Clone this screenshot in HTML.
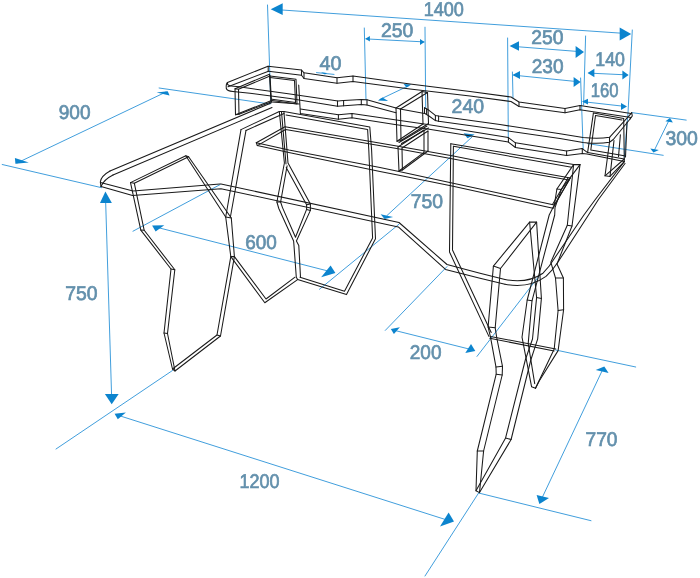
<!DOCTYPE html><html><head><meta charset="utf-8"><title>Desk dimensions</title>
<style>html,body{margin:0;padding:0;background:#fff}svg{display:block}text{font-family:"Liberation Sans",sans-serif;font-size:19.8px;fill:#6390ac;stroke:#6390ac;stroke-width:0.7px;text-rendering:geometricPrecision}</style></head><body>
<svg width="700" height="578" viewBox="0 0 700 578">
<defs><filter id="noaa" filterUnits="userSpaceOnUse" x="0" y="0" width="700" height="578"><feOffset dx="0" dy="0"/></filter></defs>
<rect width="700" height="578" fill="#ffffff"/>
<g fill="none" stroke="#2b93d8" stroke-width="0.9" stroke-linecap="round">
<polyline points="276.0,9.6 626.0,33.5"/>
<polyline points="267.5,5.0 270.8,103.0"/>
<polyline points="632.3,30.0 628.0,113.0 624.3,157.0"/>
<polyline points="366.0,38.9 424.0,41.9"/>
<polyline points="364.3,28.0 366.0,100.0"/>
<polyline points="425.0,27.2 425.7,108.0"/>
<polyline points="512.0,46.3 582.0,51.8"/>
<polyline points="507.6,38.0 508.3,137.0"/>
<polyline points="585.6,36.0 583.6,105.0"/>
<polyline points="514.0,75.2 579.0,81.8"/>
<polyline points="512.4,72.0 513.0,98.0"/>
<polyline points="580.6,78.0 583.2,149.0"/>
<polyline points="589.0,73.1 627.0,74.9"/>
<polyline points="584.0,101.8 625.0,106.4"/>
<polyline points="669.4,119.5 654.0,151.0"/>
<polyline points="631.6,112.6 686.2,120.1"/>
<polyline points="587.6,143.6 663.2,155.3"/>
<polyline points="316.5,72.6 334.0,74.4"/>
<polyline points="380.0,99.4 409.0,85.6"/>
<polyline points="386.9,215.6 472.0,137.0"/>
<polyline points="17.0,163.0 166.0,92.0"/>
<polyline points="2.2,164.5 101.6,187.7"/>
<polyline points="159.1,88.0 270.0,104.0"/>
<polyline points="105.6,200.0 111.6,396.0"/>
<polyline points="158.0,227.6 328.0,271.0"/>
<polyline points="133.0,231.2 220.1,184.6"/>
<polyline points="319.4,289.3 399.1,224.1"/>
<polyline points="120.0,415.9 446.0,519.7"/>
<polyline points="172.5,370.5 56.0,449.0"/>
<polyline points="478.6,493.0 425.0,576.0"/>
<polyline points="395.0,330.5 469.0,349.0"/>
<polyline points="385.3,330.4 447.0,266.6"/>
<polyline points="477.0,356.4 540.6,274.0"/>
<polyline points="542.0,498.0 602.0,371.0"/>
<polyline points="478.6,493.0 591.0,520.7"/>
<polyline points="555.7,350.0 635.7,367.0"/>
</g>
<g fill="#0c84ce" stroke="none">
<polygon points="270.7,9.2 282.7,3.3 282.7,15.1"/>
<polygon points="631.2,34.0 619.7,27.5 619.7,40.5"/>
<polygon points="365.3,38.8 369.9,36.0 369.9,41.6"/>
<polygon points="424.6,42.0 420.0,39.0 420.0,45.0"/>
<polygon points="509.6,46.0 519.0,41.2 519.0,50.8"/>
<polygon points="584.0,52.0 575.6,46.0 575.6,58.0"/>
<polygon points="512.4,75.0 520.0,71.0 520.0,79.0"/>
<polygon points="580.6,82.0 573.6,77.0 573.6,87.0"/>
<polygon points="587.6,73.0 594.4,68.8 594.4,77.2"/>
<polygon points="628.6,75.0 622.4,70.6 622.4,79.4"/>
<polygon points="582.0,101.6 588.0,98.8 588.0,104.4"/>
<polygon points="627.0,106.6 621.0,103.1 621.0,110.1"/>
<polygon points="670,118 665.4,121.3 672.9,122.4"/>
<polygon points="653.4,152.4 650.3,148.6 658.9,150"/>
<polygon points="321,72.2 325,74.4 327,73"/>
<polygon points="377.9,100.4 388.1,100.9 382.5,97.6"/>
<polygon points="411.3,84.6 403.6,83.9 406.5,87.5"/>
<polygon points="384.6,219 380.6,214.2 393.1,216.9"/>
<polygon points="474.7,134.6 463.6,133.2 467.5,138.3"/>
<polygon points="15.4,163.8 14.9,158 28.8,162.5"/>
<polygon points="167.7,91.3 156.6,92.4 169.6,95.6"/>
<polygon points="105.4,191.6 100,202.9 111.9,202.9"/>
<polygon points="111.7,404.2 104.9,394.1 118.7,394.1"/>
<polygon points="152.1,225.6 164.3,225.2 155.6,231.4"/>
<polygon points="335.4,273 330.6,265.6 321.1,277.3"/>
<polygon points="114.6,413.7 125.9,412.4 117.8,419.2"/>
<polygon points="454,521.6 448.6,512.6 440,526.4"/>
<polygon points="390.8,329 399.9,327.3 393.9,334.1"/>
<polygon points="475.3,351 471,344.1 465.3,353"/>
<polygon points="539.4,504 536.6,495 549,498"/>
<polygon points="604.3,366.6 595.7,370 608.6,372.9"/>
</g>
<g fill="none" stroke="#1a1a1a" stroke-width="1.05" stroke-linejoin="round" stroke-linecap="round">
<polyline points="268.0,66.2 301.5,70.0 304.0,72.8 337.0,77.8 353.0,76.0 410.0,84.0 470.0,91.6 511.0,97.0 519.0,102.0 565.0,108.6 580.0,105.6 631.0,113.6"/>
<polyline points="268.5,71.2 301.5,75.2 304.0,78.5 337.0,83.2 353.0,81.5 410.0,89.0 470.0,96.0 511.0,101.5 519.0,106.5 565.0,112.8 580.0,109.8 631.0,117.6"/>
<polyline points="268.2,66.2 268.2,71.2"/>
<polyline points="301.5,70.0 301.5,75.2"/>
<polyline points="304.0,72.8 304.0,78.5"/>
<polyline points="337.0,77.8 337.0,83.2"/>
<polyline points="353.0,76.0 353.0,81.5"/>
<polyline points="519.0,102.0 519.0,106.5"/>
<polyline points="565.0,108.6 565.0,112.8"/>
<polyline points="580.0,105.6 580.0,109.8"/>
<polyline points="268.0,66.2 227.5,82.5"/>
<polyline points="268.5,71.2 228.0,86.8"/>
<polyline points="239.0,86.8 290.0,94.0 338.0,101.0 343.6,100.5 361.3,99.4 367.0,99.7 396.0,108.0"/>
<polyline points="233.0,91.6 250.0,93.2 290.0,98.5 337.5,106.2 361.3,104.6 367.0,104.9 396.0,112.7"/>
<polyline points="337.5,101.0 337.5,106.2"/>
<polyline points="343.6,100.5 343.6,105.8"/>
<polyline points="361.3,99.4 361.3,104.6"/>
<polyline points="367.0,99.7 367.0,104.9"/>
<polyline points="400.0,109.0 424.5,113.5"/>
<polyline points="609.5,137.3 609.5,142.2"/>
<polyline points="620.4,134.7 618.5,156.6"/>
<polyline points="424.5,107.7 424.5,113.3"/>
<polyline points="426.6,108.7 426.6,114.3"/>
<polyline points="435.4,115.4 435.4,120.6"/>
<polyline points="438.6,116.0 438.6,121.2"/>
<polyline points="298.7,85.0 300.4,113.6 338.4,119.2 352.0,117.7 396.5,124.7 427.7,129.0 508.4,142.1 515.4,147.5 566.6,155.4 582.5,153.5 587.0,154.0 624.3,161.6"/>
<polyline points="300.4,109.0 338.4,114.7 352.0,113.4 396.5,120.0 427.7,124.4 508.4,137.6 515.4,142.8 566.6,150.9 582.2,148.6 587.6,152.6 624.3,159.0"/>
<polyline points="338.4,114.7 338.4,119.2"/>
<polyline points="352.0,113.4 352.0,117.7"/>
<polyline points="508.4,137.6 508.4,142.1"/>
<polyline points="515.4,142.8 515.4,147.5"/>
<polyline points="566.6,150.9 566.6,155.4"/>
<polyline points="582.3,148.6 582.3,153.5"/>
<polyline points="235.0,88.7 269.5,74.3"/>
<polyline points="238.5,89.2 270.0,76.0"/>
<polyline points="235.0,88.7 235.5,114.8 239.0,114.2 238.5,89.2 235.0,88.7"/>
<polyline points="270.0,76.0 271.5,102.0"/>
<polyline points="269.5,74.3 271.0,102.0"/>
<polyline points="235.5,114.8 271.5,100.5"/>
<polyline points="239.0,114.2 271.5,101.8"/>
<polyline points="270.0,76.0 296.0,79.2 297.0,104.0 272.0,100.5"/>
<polyline points="270.0,77.6 294.5,80.5 295.5,102.5 272.0,99.3"/>
<polyline points="272.0,102.0 299.3,104.0"/>
<polyline points="396.0,108.0 422.0,91.5 427.5,92.5 400.5,109.0 396.0,108.0"/>
<polyline points="396.0,108.0 397.0,141.3 401.0,140.5 400.5,109.0"/>
<polyline points="422.0,91.5 423.0,124.0"/>
<polyline points="427.5,92.5 428.5,123.5"/>
<polyline points="397.0,141.3 423.0,124.0"/>
<polyline points="401.0,140.5 428.5,123.5"/>
<polyline points="399.0,142.5 427.0,126.0"/>
<polyline points="401.5,143.5 428.5,128.0"/>
<polyline points="398.0,147.0 424.0,130.0"/>
<polyline points="398.0,147.0 399.0,171.0 402.4,170.0 402.0,148.0"/>
<polyline points="402.0,148.0 428.0,131.0"/>
<polyline points="424.0,130.0 424.0,152.4"/>
<polyline points="428.0,131.0 428.0,151.0"/>
<polyline points="399.0,171.0 424.0,152.4"/>
<polyline points="402.4,170.0 428.0,151.0"/>
<polyline points="593.4,113.1 623.7,118.5"/>
<polyline points="593.4,113.1 587.6,152.6"/>
<polyline points="595.5,115.5 590.8,150.0 624.3,155.8"/>
<polyline points="595.5,115.5 622.0,120.0"/>
<polyline points="631.7,112.6 632.3,116.0 630.0,118.9"/>
<polyline points="609.5,142.2 605.0,175.8 610.0,176.4 614.0,140.5"/>
<polyline points="605.0,175.8 624.3,159.0"/>
<polyline points="610.0,176.4 624.3,161.6"/>
<polyline points="623.7,118.5 624.3,161.6"/>
<polyline points="627.0,122.0 625.5,157.0"/>
<polyline points="271.0,103.0 110.0,171.0"/>
<polyline points="272.0,107.5 113.0,175.0"/>
<polyline points="100.5,182.4 133.0,191.0 220.0,184.0 221.0,184.0 399.0,222.5 447.0,264.5 480.0,273.2 505.0,279.5"/>
<polyline points="101.0,186.4 132.5,195.5 221.0,188.7 398.3,226.9 445.5,269.4 480.0,278.3 505.0,284.3"/>
<polyline points="130.5,182.6 185.8,155.8 225.7,217.0 230.8,256.6 217.0,335.0 172.5,369.0 164.0,333.0 171.0,269.0 140.8,230.1 130.5,182.6"/>
<polyline points="134.3,183.2 188.6,156.7 231.3,218.0 234.4,256.6 220.5,336.0 175.0,371.0 167.5,333.5 174.8,269.8 144.2,230.3 134.3,183.2"/>
<polyline points="130.5,182.6 134.3,183.2"/>
<polyline points="185.8,155.8 188.6,156.7"/>
<polyline points="225.7,217.0 231.3,218.0"/>
<polyline points="230.8,256.6 234.4,256.6"/>
<polyline points="217.0,335.0 220.5,336.0"/>
<polyline points="172.5,369.0 175.0,371.0"/>
<polyline points="164.0,333.0 167.5,333.5"/>
<polyline points="171.0,269.0 174.8,269.8"/>
<polyline points="140.8,230.1 144.2,230.3"/>
<polyline points="241.0,129.6 279.3,111.5 283.9,111.5"/>
<polyline points="246.0,130.4 284.0,113.5"/>
<polyline points="241.0,129.6 225.7,217.0"/>
<polyline points="246.0,130.4 230.4,217.0"/>
<polyline points="279.3,111.5 284.4,163.0 276.9,202.0 278.8,208.5 293.6,241.0 293.9,244.4 296.3,277.2 297.6,279.6 264.8,302.7 230.8,256.6"/>
<polyline points="283.9,111.5 288.0,163.0 310.4,203.9 310.4,210.4 296.4,241.0 298.8,245.6 300.5,277.2"/>
<polyline points="287.1,165.8 280.6,202.0 282.5,207.6 295.5,237.3 306.6,209.4 306.6,204.8 286.2,167.6"/>
<polyline points="281.5,112.0 286.0,164.0"/>
<polyline points="295.0,277.2 266.0,299.0 234.4,256.6"/>
<polyline points="276.9,202.0 280.6,202.0"/>
<polyline points="310.4,203.9 306.6,204.8"/>
<polyline points="310.4,210.4 306.6,209.4"/>
<polyline points="283.9,111.5 369.8,127.0 371.6,150.0 375.5,238.7 346.5,294.6 297.6,279.6"/>
<polyline points="286.0,115.0 367.6,129.4 368.8,150.0 372.6,237.9 344.5,291.2 300.0,277.2"/>
<polyline points="256.3,142.8 285.0,126.7 396.7,146.0 452.0,155.7 510.0,167.2 570.4,178.1"/>
<polyline points="257.3,145.6 285.6,129.5 396.7,148.6 452.0,158.7 510.0,169.8 569.0,180.0"/>
<polyline points="256.3,142.8 289.0,150.0 380.0,167.6 399.0,171.5 452.0,182.9 510.0,195.5 554.3,205.1"/>
<polyline points="256.3,142.8 257.3,145.6 290.0,152.8 380.0,171.4 399.0,175.3 452.0,186.0 510.0,198.7 553.0,208.3"/>
<polyline points="570.4,178.1 554.3,205.1"/>
<polyline points="569.0,180.0 553.0,208.3"/>
<polyline points="568.0,178.0 552.5,204.5"/>
<polyline points="450.8,143.7 573.6,164.6 580.0,164.6"/>
<polyline points="453.4,146.3 571.7,167.2"/>
<polyline points="450.8,143.7 449.5,252.0 488.9,336.4"/>
<polyline points="453.4,146.3 452.5,250.0 491.2,332.5"/>
<polyline points="490.5,336.4 555.8,349.0"/>
<polyline points="489.7,338.3 554.2,351.0"/>
<polyline points="493.4,266.1 529.6,222.1 536.6,222.1 500.5,268.5 493.4,266.1"/>
<polyline points="493.4,266.1 488.1,327.0 490.5,337.2 496.0,367.1 496.2,374.2 477.3,451.0 476.0,490.8 479.5,492.6"/>
<polyline points="500.5,268.5 495.2,327.8 496.8,338.0 502.5,366.3 502.2,375.0 483.6,451.0 479.5,492.6"/>
<polyline points="488.1,327.0 495.2,327.8"/>
<polyline points="496.0,367.1 502.5,366.3"/>
<polyline points="496.2,374.2 502.2,375.0"/>
<polyline points="477.3,451.0 483.6,451.0"/>
<polyline points="529.6,222.1 536.6,297.6 532.5,339.0 525.3,360.0 505.6,437.9 476.0,490.8"/>
<polyline points="536.6,222.1 541.4,298.4 537.7,338.8 530.8,360.0 511.1,439.5 479.5,492.6"/>
<polyline points="536.6,297.6 541.4,298.4"/>
<polyline points="505.6,437.9 511.1,439.5"/>
<polyline points="573.6,164.6 556.9,189.0 561.4,189.4 580.0,164.6"/>
<polyline points="556.9,189.0 554.3,205.1 549.2,215.0 527.2,300.0 522.0,337.2 531.6,386.8 535.5,388.3"/>
<polyline points="561.4,189.4 555.0,207.7 554.7,215.0 532.0,300.8 528.2,343.5 534.7,383.6"/>
<polyline points="527.2,300.0 532.0,300.8"/>
<polyline points="573.6,164.6 567.3,225.2 550.8,262.2 555.5,278.0 558.1,310.5 554.2,349.0 535.5,388.3"/>
<polyline points="580.0,164.6 572.0,226.0 557.0,264.0 563.4,278.0 563.6,309.7 558.1,350.6 539.2,381.0 535.5,388.3"/>
<polyline points="567.3,225.2 572.0,226.0"/>
<polyline points="555.5,278.0 563.4,278.0"/>
<polyline points="558.1,310.5 563.6,309.7"/>
<path d="M227.5,82.5 Q225.8,84 226.3,88.5 Q227,91 233,91.6"/>
<path d="M227.5,82.5 Q226.8,85.6 231,85.9 L239,86.8"/>
<path d="M424.5,107.7 L429,110.3 L435.4,115.4 L438.6,116 L500,124.6 L560,133.8 L583.1,137.5 Q598,139.2 609.5,137.3 L631.7,112.8"/>
<path d="M424.5,113.3 L429,116 L435.4,120.6 L438.6,121.2 L500,129.8 L560,138.6 L583.1,142.4 Q598,144.2 609.5,142.2 L613.3,139.5 L630.5,118.5"/>
<path d="M110,171 Q101,176 100.3,182 L101,186.4"/>
<path d="M113,175 Q104,179.5 101,186.4"/>
<path d="M505,279.5 Q527,284 543,273.2 Q550,266 554,259 L583.9,215 L595.5,199.3 L624.3,161.6"/>
<path d="M505,284.3 Q529,288.7 546,276.4 Q553,270 558,262 L588.5,215 L598.6,199.3 L625,163.5"/>
</g>
<g filter="url(#noaa)">
<text x="423.7" y="16.1" textLength="40.2" lengthAdjust="spacingAndGlyphs">1400</text>
<text x="381.0" y="36.7" textLength="32.3" lengthAdjust="spacingAndGlyphs">250</text>
<text x="531.3" y="44.4" textLength="32.2" lengthAdjust="spacingAndGlyphs">250</text>
<text x="531.7" y="72.8" textLength="31.8" lengthAdjust="spacingAndGlyphs">230</text>
<text x="595.3" y="66.4" textLength="29.6" lengthAdjust="spacingAndGlyphs">140</text>
<text x="590.7" y="97.2" textLength="27.8" lengthAdjust="spacingAndGlyphs">160</text>
<text x="665.5" y="145.1" textLength="32.4" lengthAdjust="spacingAndGlyphs">300</text>
<text x="319.6" y="70.1" textLength="22.0" lengthAdjust="spacingAndGlyphs">40</text>
<text x="451.6" y="113.3" textLength="32.5" lengthAdjust="spacingAndGlyphs">240</text>
<text x="410.7" y="208.3" textLength="32.3" lengthAdjust="spacingAndGlyphs">750</text>
<text x="58.7" y="119.3" textLength="31.8" lengthAdjust="spacingAndGlyphs">900</text>
<text x="65.2" y="299.8" textLength="32.3" lengthAdjust="spacingAndGlyphs">750</text>
<text x="245.3" y="248.8" textLength="31.6" lengthAdjust="spacingAndGlyphs">600</text>
<text x="239.5" y="488.3" textLength="40.0" lengthAdjust="spacingAndGlyphs">1200</text>
<text x="409.8" y="359.3" textLength="31.7" lengthAdjust="spacingAndGlyphs">200</text>
<text x="585.5" y="446.0" textLength="32.0" lengthAdjust="spacingAndGlyphs">770</text>
</g>
</svg></body></html>
